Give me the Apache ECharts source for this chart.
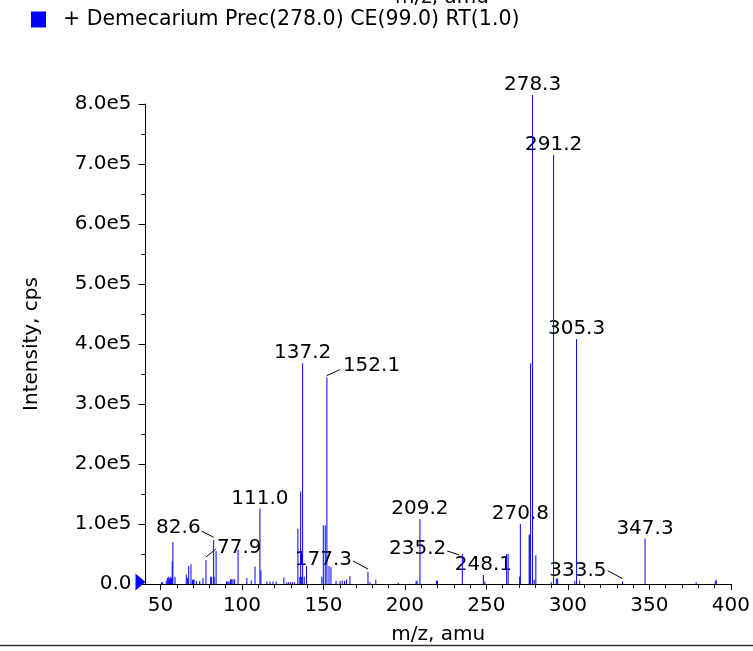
<!DOCTYPE html>
<html>
<head>
<meta charset="utf-8">
<title>Demecarium product ion spectrum</title>
<script src="https://cdn.jsdelivr.net/npm/echarts@6/dist/echarts.min.js"></script>
<style>
  html, body { margin: 0; padding: 0; background: #fff; }
  #chart { width: 753px; height: 651px; }
</style>
</head>
<body>
<div id="chart"></div>
<script>
  // peaks: m/z and intensity (cps)
  const mz = [
    50.6, 51.4, 53.5, 54.2, 54.8, 55.5, 56.2, 56.8, 57.2, 57.6, 58.9,
    65.8, 66.6, 67.3, 68.7, 69.6, 70.2, 70.6, 72.0, 74.1, 76.1, 77.9,
    80.8, 81.4, 82.6, 82.9, 84.1, 90.5, 91.3, 92.0, 92.9, 93.7, 94.5, 95.5,
    97.6, 103.0, 105.7, 108.0, 111.0, 111.6, 115.3, 117.2, 119.0, 121.0,
    125.7, 127.5, 128.6, 129.8, 131.0, 132.2, 134.3, 135.5, 136.0, 136.4,
    137.2, 138.2, 139.6, 149.0, 149.9, 151.1, 152.1, 153.4, 154.6, 157.7,
    160.2, 161.5, 162.9, 164.1, 166.2, 177.3, 178.5, 182.1, 195.9, 206.8,
    207.4, 209.2, 219.3, 220.0, 235.2, 248.1, 249.0, 262.4, 263.3, 270.4,
    270.8, 276.2, 276.6, 277.1, 278.3, 279.3, 280.3, 289.7, 291.2, 292.9,
    293.7, 304.2, 305.3, 307.2, 333.5, 347.3, 378.7, 390.4, 391.0
  ];
  const intensity = [
    3000, 3000, 6000, 10000, 12000, 9000, 12000, 10000, 38000, 70000, 12000,
    16000, 10000, 30000, 33000, 7000, 7000, 7000, 5000, 5000, 10000, 40000,
    12000, 12000, 73000, 12000, 55000, 4000, 4000, 4000, 8000, 8000, 8000, 8000,
    57000, 10000, 6000, 29000, 126000, 23000, 4000, 4000, 4000, 4000,
    11000, 3000, 3000, 3000, 3000, 3000, 92000, 12000, 154000, 12000,
    368000, 12000, 30000, 12000, 98000, 98000, 344000, 30000, 28000, 5000,
    5000, 6000, 5000, 7000, 13000, 20000, 3000, 7000, 2000, 5000,
    6000, 108000, 6000, 5000, 50000, 15000, 4000, 50000, 50000, 12000,
    100000, 82000, 82000, 368000, 815000, 7000, 48000, 3000, 715000, 9000,
    9000, 5000, 408000, 6000, 4000, 76000, 3000, 5000, 7000
  ];

  // annotated peaks
  const labelMz = [278.3, 291.2, 305.3, 137.2, 152.1, 111.0, 82.6, 77.9, 177.3, 209.2, 235.2, 248.1, 270.8, 347.3, 333.5];

  const xLabels = [50, 100, 150, 200, 250, 300, 350, 400];
  const xMinor = [50, 60, 70, 80, 90, 100, 110, 120, 130, 140, 150, 160, 170, 180, 190, 200,
    210, 220, 230, 240, 250, 260, 270, 280, 290, 300, 310, 320, 330, 340, 350, 360, 370, 380, 390, 400];

  const seriesName = '+ Demecarium Prec(278.0) CE(99.0) RT(1.0)';
  const FONT = 'DejaVu Sans';

  // where the software put labels that have a leader line (px from peak top)
  const leaders = {
    '152.1': {dx: 16, dy: -12, align: 'left', line: [[0, -2], [13, -8]]},
    '82.6': {dx: -13, dy: -12, align: 'right', line: [[0, -3], [-12, -9]]},
    '77.9': {dx: 11, dy: -12, align: 'left', line: [[0, -3], [10, -11]]},
    '177.3': {dx: -16, dy: -12, align: 'right', line: [[0, -3], [-15, -11]]},
    '235.2': {dx: -16, dy: -5, align: 'right', line: [[-3, 1], [-15, -3]]},
    '333.5': {dx: -16, dy: -11, align: 'right', line: [[0, -3], [-15, -11]]}
  };

  const barData = mz.map((m, i) => [m, intensity[i]]);
  const labelData = labelMz.map(m => [m, intensity[mz.indexOf(m)]]);

  const chart = echarts.init(document.getElementById('chart'));

  const option = {
    animation: false,
    textStyle: {fontFamily: FONT},
    legend: {
      data: [seriesName],
      left: 31,
      top: 9,
      padding: 0,
      itemWidth: 15,
      itemHeight: 16,
      icon: 'rect',
      textStyle: {fontSize: 20.5, color: '#000', fontFamily: FONT, padding: [4, 0, 0, 12]}
    },
    grid: {left: 145.5, right: 14.3, top: 104, bottom: 67},
    xAxis: [
      {
        type: 'value',
        min: 40.8,
        max: 400,
        name: 'm/z, amu',
        nameLocation: 'middle',
        nameGap: 41,
        nameTextStyle: {fontSize: 20, color: '#000', fontFamily: FONT},
        axisLine: {lineStyle: {color: '#000', width: 1}},
        axisTick: {customValues: xLabels, length: 6, lineStyle: {color: '#000'}},
        axisLabel: {customValues: xLabels, fontSize: 20, color: '#000', margin: 12, fontFamily: FONT},
        splitLine: {show: false}
      },
      {
        type: 'value',
        min: 40.8,
        max: 400,
        position: 'bottom',
        axisLine: {show: false},
        axisTick: {customValues: xMinor, length: 4, lineStyle: {color: '#000'}},
        axisLabel: {show: false},
        splitLine: {show: false}
      }
    ],
    yAxis: {
      type: 'value',
      min: 0,
      max: 800000,
      interval: 100000,
      name: 'Intensity, cps',
      nameLocation: 'middle',
      nameGap: 104,
      nameTextStyle: {fontSize: 20, color: '#000', fontFamily: FONT},
      axisLine: {show: true, lineStyle: {color: '#000', width: 1}},
      axisTick: {show: true, length: 7, lineStyle: {color: '#000'}},
      minorTick: {show: true, splitNumber: 2, length: 4, lineStyle: {color: '#000'}},
      axisLabel: {
        fontSize: 20, color: '#000', margin: 14, fontFamily: FONT,
        formatter: v => v === 0 ? '0.0' : (v / 1e5).toFixed(1) + 'e5'
      },
      splitLine: {show: false}
    },
    series: [
      {
        name: seriesName,
        type: 'bar',
        xAxisIndex: 0,
        data: barData,
        barWidth: 1,
        clip: false,
        itemStyle: {color: '#0000ff'},
        markPoint: {
          silent: true,
          symbol: 'triangle',
          symbolSize: [17, 10],
          symbolRotate: -90,
          symbolOffset: [-5, -2],
          itemStyle: {color: '#0000ff'},
          label: {show: false},
          data: [{coord: [40.8, 0]}]
        }
      },
      {
        type: 'custom',
        xAxisIndex: 0,
        data: labelData,
        silent: true,
        renderItem: (params, api) => {
          const p = api.coord([api.value(0), api.value(1)]);
          const txt = labelMz[params.dataIndex].toFixed(1);
          const ld = leaders[txt];
          const textStyle = {text: txt, fontSize: 20, fontFamily: FONT, fill: '#000'};
          if (!ld) {
            return {
              type: 'text',
              x: p[0], y: p[1],
              style: Object.assign(textStyle, {align: 'center', verticalAlign: 'bottom'})
            };
          }
          return {
            type: 'group',
            children: [
              {
                type: 'line',
                shape: {x1: p[0] + ld.line[0][0], y1: p[1] + ld.line[0][1], x2: p[0] + ld.line[1][0], y2: p[1] + ld.line[1][1]},
                style: {stroke: '#000', lineWidth: 1}
              },
              {
                type: 'text',
                x: p[0] + ld.dx, y: p[1] + ld.dy,
                style: Object.assign(textStyle, {align: ld.align, verticalAlign: 'middle'})
              }
            ]
          };
        }
      }
    ],
    graphic: [
      // x axis title of the panel above, cut off by the crop
      {type: 'text', x: 442, y: 8, style: {text: 'm/z, amu', fontSize: 20, fontFamily: FONT, fill: '#000', align: 'center', verticalAlign: 'bottom'}},
      {type: 'line', shape: {x1: 0, y1: 645.5, x2: 753, y2: 645.5}, style: {stroke: '#333', lineWidth: 1.5}}
    ]
  };

  chart.setOption(option);
</script>
</body>
</html>
